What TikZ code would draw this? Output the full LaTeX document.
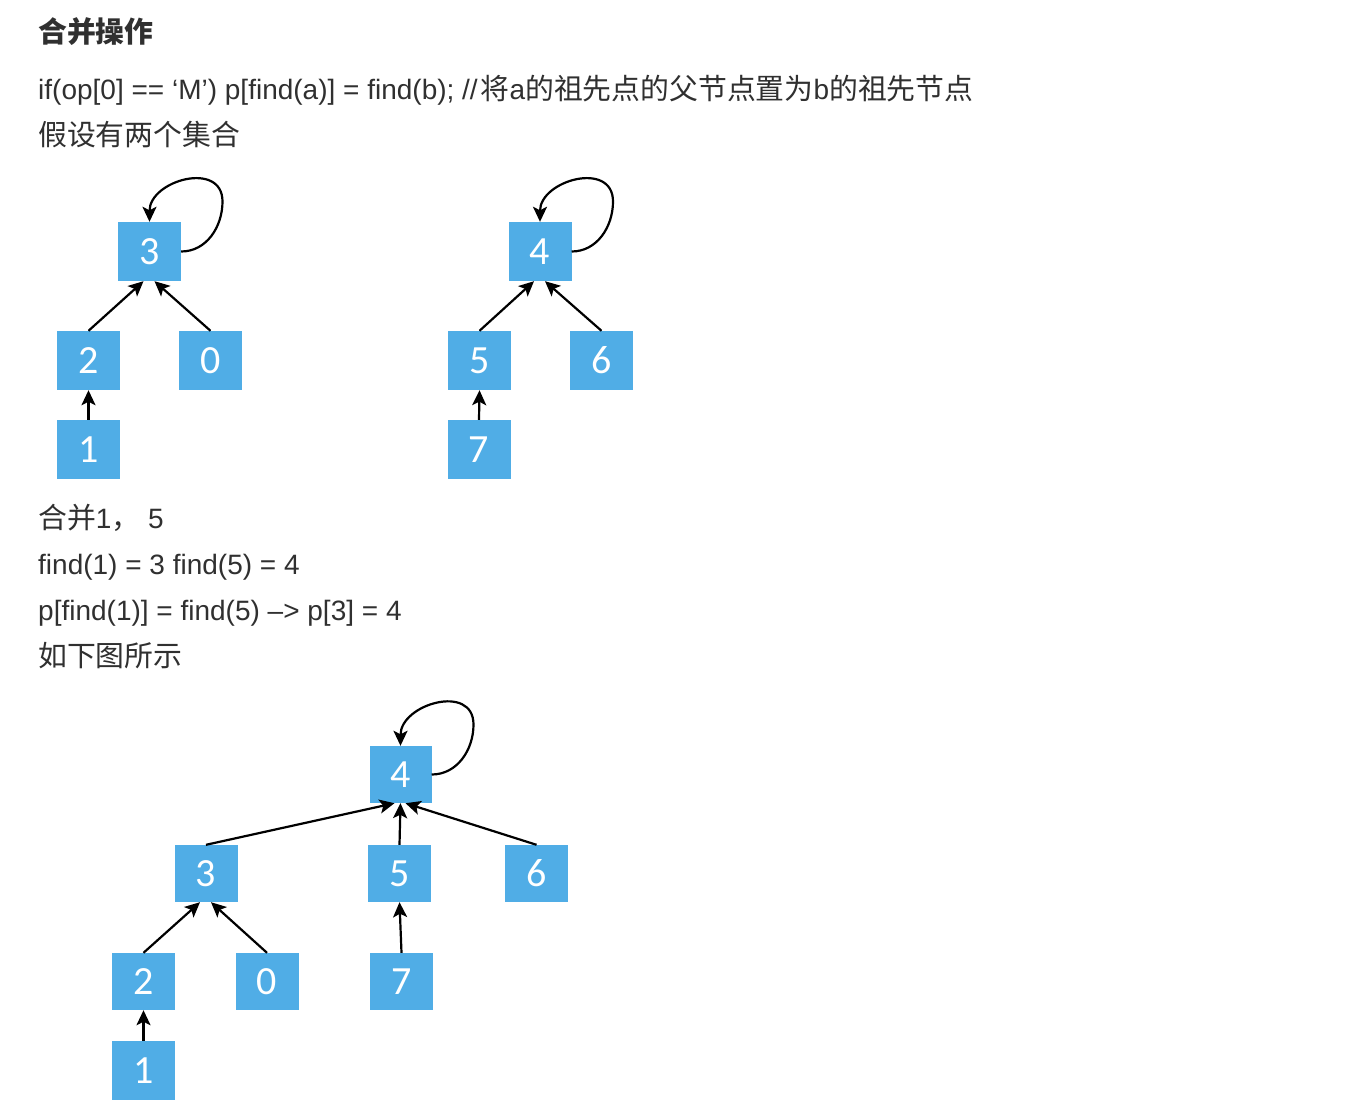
\documentclass[tikz,border=0pt]{standalone}
\usepackage{fontspec}
\setmainfont{Liberation Sans}
\newfontfamily\cjk{Noto Sans CJK SC}[Scale=1.03]
\newfontfamily\digitfont{Carlito}
\usetikzlibrary{arrows.meta,calc}
\definecolor{nodeblue}{RGB}{80,173,230}
\definecolor{txtgray}{RGB}{48,48,48}
\begin{document}
\begin{tikzpicture}[x=1pt,y=1pt,
  box/.style={fill=nodeblue, minimum width=63pt, minimum height=59pt, inner sep=0pt,
    text=white, font=\digitfont\fontsize{40}{40}\selectfont},
  arr/.style={-{Stealth[length=15pt,width=14pt,inset=3.5pt]}, line width=2.2pt, black},
  txt/.style={anchor=base west, inner sep=0pt, text=txtgray, font=\fontsize{28}{34}\selectfont}]
\useasboundingbox (0,0) rectangle (1354,-1116);
\fill[white] (0,0) rectangle (1354,-1116);

% texts
\node[txt] (t0) at (38,-42.5) {\cjk\bfseries 合并操作};
\node[txt] (t1) at (38,-99.5) {if(op[0] == ‘M’) p[find(a)] = find(b); //\hspace{3pt}{\cjk 将}a{\cjk 的祖先点的父节点置为}b{\cjk 的祖先节点}};
\node[txt] (t2) at (38,-145.5) {\cjk 假设有两个集合};
\node[txt] (t3) at (38,-528.5) {{\cjk 合并}1{\cjk ，} 5};
\node[txt] (t4) at (38,-574) {find(1) = 3 find(5) = 4};
\node[txt] (t5) at (38,-620) {p[find(1)] = find(5) –> p[3] = 4};
\node[txt] (t6) at (38,-666.5) {\cjk 如下图所示};

% tree 1
\node[box] (a3) at (149.5,-251.5) {3};
\node[box] (a2) at (88.5,-360.5) {2};
\node[box] (a0) at (210.5,-360.5) {0};
\node[box] (a1) at (88.5,-449.5) {1};
\draw[arr] (a2.north) -- ($(a3.south)+(-6,0)$);
\draw[arr] (a0.north) -- ($(a3.south)+(5,0)$);
\draw[arr] (a1.north) -- (a2.south);
\draw[arr] (a3.east) to[out=0,in=-90] ($(a3.center)+(73,50)$) to[out=90,in=90,looseness=1.4] (a3.north);

% tree 2
\node[box] (b4) at (540,-251.5) {4};
\node[box] (b5) at (479.5,-360.5) {5};
\node[box] (b6) at (601.5,-360.5) {6};
\node[box] (b7) at (479,-449.5) {7};
\draw[arr] (b5.north) -- ($(b4.south)+(-6,0)$);
\draw[arr] (b6.north) -- ($(b4.south)+(5,0)$);
\draw[arr] (b7.north) -- (b5.south);
\draw[arr] (b4.east) to[out=0,in=-90] ($(b4.center)+(73,50)$) to[out=90,in=90,looseness=1.4] (b4.north);

% tree 3
\node[box, minimum height=57pt, minimum width=62pt] (c4) at (400.5,-774.5) {4};
\node[box, minimum height=57pt] (c3) at (206,-873.5) {3};
\node[box, minimum height=57pt] (c5) at (399.5,-873.5) {5};
\node[box, minimum height=57pt] (c6) at (536.5,-873.5) {6};
\node[box, minimum height=57pt] (c2) at (143.5,-981.5) {2};
\node[box, minimum height=57pt] (c0) at (267,-981.5) {0};
\node[box, minimum height=57pt] (c7) at (401.5,-981.5) {7};
\node[box] (c1) at (143.5,-1070.5) {1};
\draw[arr] (c3.north) -- ($(c4.south)+(-6,0)$);
\draw[arr] (c5.north) -- (c4.south);
\draw[arr] (c6.north) -- ($(c4.south)+(5,0)$);
\draw[arr] (c2.north) -- ($(c3.south)+(-6,0)$);
\draw[arr] (c0.north) -- ($(c3.south)+(5,0)$);
\draw[arr] (c7.north) -- (c5.south);
\draw[arr] (c1.north) -- (c2.south);
\draw[arr] (c4.east) to[out=0,in=-90] ($(c4.center)+(73,50)$) to[out=90,in=90,looseness=1.4] (c4.north);
\end{tikzpicture}
\end{document}
